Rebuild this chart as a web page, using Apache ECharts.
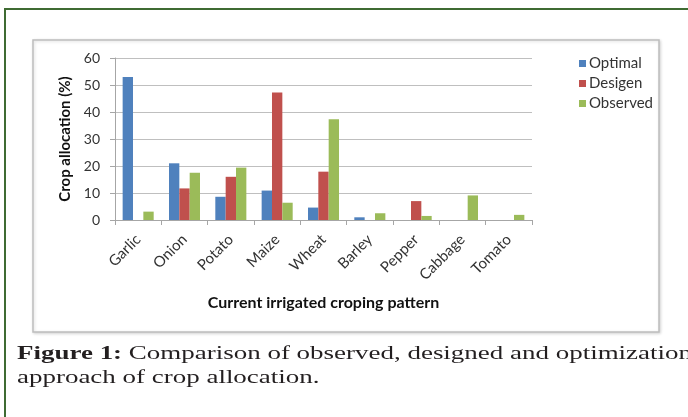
<!DOCTYPE html>
<html>
<head>
<meta charset="utf-8">
<style>
html,body{margin:0;padding:0;background:#fff;}
#chart{width:688px;height:417px;}
</style>
<script src="https://cdn.jsdelivr.net/npm/echarts@6/dist/echarts.min.js"></script>
</head>
<body>
<div id="chart"></div>
<script>
var categories = ['Garlic','Onion','Potato','Maize','Wheat','Barley','Pepper','Cabbage','Tomato'];
var optimal  = [53, 21, 8.6, 10.9, 4.6, 1, 0, 0, 0];
var designed = [0, 11.7, 16, 47.2, 17.9, 0, 7, 0, 0];
var observed = [3.1, 17.5, 19.4, 6.4, 37.3, 2.5, 1.5, 9.1, 1.9];
var seriesNames = ['Optimal','Desigen','Observed'];
var yTicks = {min: 0, max: 60, interval: 10};
var xTitle = 'Current irrigated croping pattern';
var yTitle = 'Crop allocation (%)';
var captionBold = 'Figure 1:';
var captionLine1 = ' Comparison of observed, designed and optimization';
var captionLine2 = 'approach of crop allocation.';

var colors = ['#4F81BD','#C0504D','#9BBB59'];
var font = 'Lato';
var capFont = 'Liberation Serif';
var capSize = 19;

// horizontal stretch so the serif caption spans the same width as in the figure
var cv = document.createElement('canvas').getContext('2d');
cv.font = 'bold ' + capSize + 'px "' + capFont + '"';
var wB = cv.measureText(captionBold).width;
cv.font = capSize + 'px "' + capFont + '"';
var wR = cv.measureText(captionLine1).width;
var capScale = 675 / (wB + wR);

var chart = echarts.init(document.getElementById('chart'), null, {renderer:'canvas'});
chart.setOption({
  animation: false,
  backgroundColor: '#fff',
  color: colors,
  textStyle: {fontFamily: font},
  graphic: [
    {type:'rect', z:-10, shape:{x:5, y:9, width:700, height:420},
     style:{fill:'#fff', stroke:'#3F6B32', lineWidth:2}},
    {type:'rect', z:-9, shape:{x:33, y:40, width:626, height:292},
     style:{fill:'#fff', stroke:'#BDBDBD', lineWidth:1.5, shadowColor:'rgba(0,0,0,0.15)', shadowBlur:3, shadowOffsetX:1, shadowOffsetY:1}},
    {type:'text', x:17, y:364, scaleX:capScale, scaleY:1,
     style:{text:'{b|'+captionBold+'}'+captionLine1, font:capSize+'px "'+capFont+'"', fill:'#231F20',
       verticalAlign:'bottom',
       rich:{b:{fontWeight:'bold', fontFamily:capFont, fontSize:capSize, fill:'#231F20'}}}},
    {type:'text', x:17, y:388, scaleX:capScale, scaleY:1,
     style:{text:captionLine2, font:capSize+'px "'+capFont+'"', fill:'#231F20', verticalAlign:'bottom'}}
  ],
  grid: {left:115, right:156, top:58, bottom:197, containLabel:false},
  legend: {
    orient:'vertical', left:574, top:51,
    itemWidth:7, itemHeight:7, itemGap:5,
    icon:'rect',
    data: seriesNames,
    textStyle:{fontSize:15, color:'#333', fontFamily:font, padding:[0,0,0,-2]}
  },
  xAxis: {
    type:'category', data: categories,
    name: xTitle, nameLocation:'middle', nameGap:75,
    nameTextStyle:{fontWeight:'bold', fontSize:16, color:'#111', fontFamily:font},
    axisLine:{show:true, lineStyle:{color:'#A6A6A6', width:1}},
    axisTick:{show:true, inside:false, length:5, alignWithLabel:false, lineStyle:{color:'#A6A6A6'}},
    axisLabel:{rotate:45, fontSize:15, color:'#333', margin:17, interval:0}
  },
  yAxis: {
    type:'value', min:yTicks.min, max:yTicks.max, interval:yTicks.interval,
    name: yTitle, nameLocation:'middle', nameGap:42,
    nameTextStyle:{fontWeight:'bold', fontSize:15, color:'#111', fontFamily:font},
    axisLine:{show:true, lineStyle:{color:'#A6A6A6', width:1}},
    axisTick:{show:true, inside:false, length:5, lineStyle:{color:'#A6A6A6'}},
    axisLabel:{fontSize:14, color:'#333', margin:15},
    splitLine:{show:true, lineStyle:{color:'#BFBFBF', width:1}}
  },
  series: [
    {name:seriesNames[0], type:'bar', data:optimal, barGap:'0%', barCategoryGap:'33%'},
    {name:seriesNames[1], type:'bar', data:designed, barGap:'0%', barCategoryGap:'33%'},
    {name:seriesNames[2], type:'bar', data:observed, barGap:'0%', barCategoryGap:'33%'}
  ]
});
</script>
</body>
</html>
